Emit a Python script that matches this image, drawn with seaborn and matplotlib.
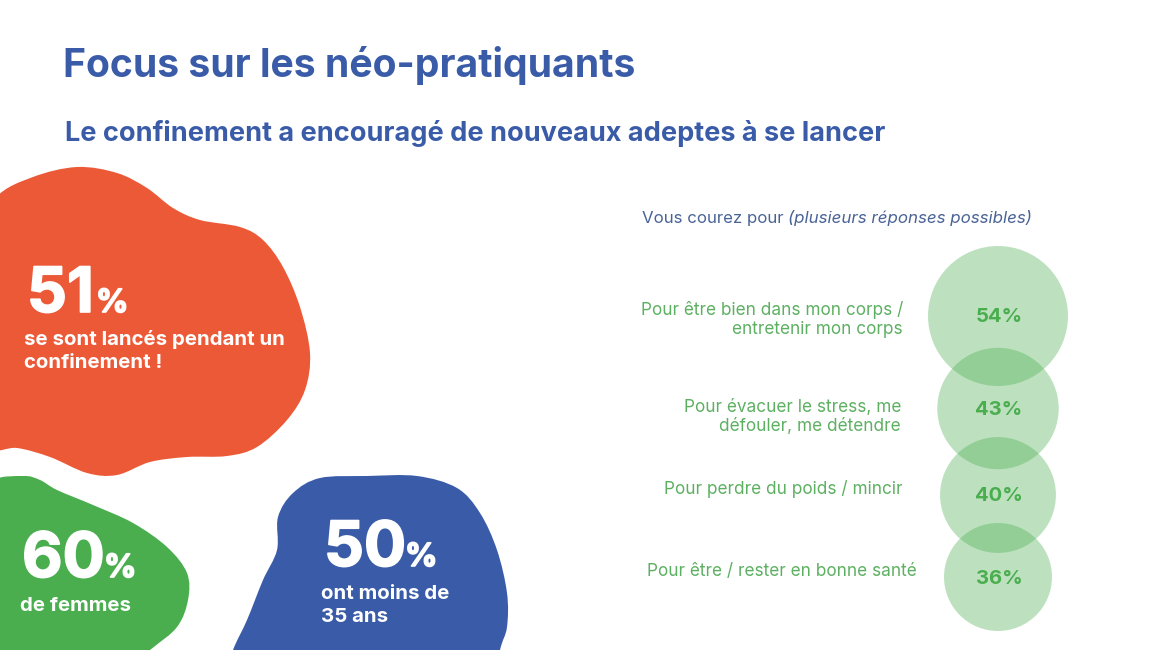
import numpy as np
import pandas as pd
import matplotlib
matplotlib.use('Agg')
import matplotlib.pyplot as plt
import matplotlib.patheffects as pe
from matplotlib.patches import PathPatch
from matplotlib.path import Path
import seaborn as sns

RED = '#EC5937'
GREEN = '#4AAE4F'
BLUE = '#3A5CA8'
LABEL_GREEN = '#5DB062'

# left side key figures
stat_values = [51, 60, 50]
stat_captions = ["se sont lancés pendant un\nconfinement !", "de femmes", "ont moins de\n35 ans"]

# right side survey answers
reasons = ["Pour être bien dans mon corps /\nentretenir mon corps",
           "Pour évacuer le stress, me\ndéfouler, me détendre",
           "Pour perdre du poids / mincir",
           "Pour être / rester en bonne santé"]
reason_values = [54, 43, 40, 36]

# layout, in pixels of the slide
bubble_x = [998, 998, 998, 998]
bubble_y = [316, 408.5, 495, 577]
pct_y = [317, 410, 496, 579]
label_x = [903, 901, 903, 917]
label_y = [315, 412, 494, 576]

# hand traced blob outlines
red_blob = [(-40, 250), (-5, 198), (33, 177), (77, 167), (117, 173), (147, 188), (173, 208), (200, 220),
            (240, 227), (263, 240), (283, 267), (300, 307), (310, 353), (305, 390), (287, 420),
            (257, 447), (227, 456), (187, 457), (150, 462), (117, 475), (87, 473), (50, 457),
            (17, 448), (-10, 449), (-40, 420)]
green_blob = [(-40, 520), (-10, 482), (23, 476), (40, 480), (57, 490), (93, 505), (133, 523), (167, 547),
              (187, 573), (188, 600), (177, 627), (150, 650), (100, 690), (-40, 690)]
blue_blob = [(220, 690), (233, 650), (247, 620), (263, 580), (277, 550), (278, 517), (293, 493), (320, 478),
             (367, 476), (417, 476), (457, 488), (480, 513), (497, 550), (507, 593), (507, 627),
             (500, 650), (490, 700)]


def smooth_closed(points):
    # closed Catmull-Rom outline turned into bezier segments
    pts = np.array(points, dtype=float)
    n = len(pts)
    verts = [pts[0]]
    codes = [Path.MOVETO]
    for i in range(n):
        p0, p1, p2, p3 = pts[i - 1], pts[i], pts[(i + 1) % n], pts[(i + 2) % n]
        verts += [p1 + (p2 - p0) / 6, p2 - (p3 - p1) / 6, p2]
        codes += [Path.CURVE4] * 3
    return Path(verts, codes)


def draw_lines(ax, x, y, text, step, **kw):
    # one Text per line so that every baseline lands where it should
    for i, line in enumerate(text.split("\n")):
        ax.text(x, y + i * step, line, va='baseline', zorder=3, **kw)


def draw_stat(ax, value, caption, x, y, pct_x, cap_x, cap_y, outline, color):
    ax.add_patch(PathPatch(smooth_closed(outline), fc=color, ec='none', zorder=1))
    # the reference digits are heavier than Inter Bold
    heavy = [pe.withStroke(linewidth=1.2, foreground='white')]
    ax.text(x, y, str(value), color='white', fontsize=45, fontweight='bold', va='baseline', zorder=3,
            path_effects=heavy)
    ax.text(pct_x, y, "%", color='white', fontsize=23, fontweight='bold', va='baseline', zorder=3,
            path_effects=heavy)
    draw_lines(ax, cap_x, cap_y, caption, 23, color='white', fontsize=14.7, fontweight='bold')


def main():
    sns.set_theme(style='white')
    plt.rcParams['font.family'] = ['Inter', 'DejaVu Sans']

    fig, ax = plt.subplots(figsize=(11.6, 6.5), dpi=100)
    ax.set_position([0, 0, 1, 1])
    ax.set_xlim(0, 1160)
    ax.set_ylim(650, 0)
    ax.axis('off')

    ax.text(63, 77, "Focus sur les néo-pratiquants", color=BLUE, fontsize=28.2, fontweight='bold')
    ax.text(65, 141, "Le confinement a encouragé de nouveaux adeptes à se lancer", color=BLUE,
            fontsize=19.5, fontweight='bold')

    draw_stat(ax, stat_values[0], stat_captions[0], 27, 312, 96, 24, 345, red_blob, RED)
    draw_stat(ax, stat_values[1], stat_captions[1], 22, 577, 104, 20, 611, green_blob, GREEN)
    draw_stat(ax, stat_values[2], stat_captions[2], 324, 566, 405, 321, 599, blue_blob, BLUE)

    ax.text(642, 223, "Vous courez pour ", color='#4A6396', fontsize=12.1)
    ax.text(788, 223, "(plusieurs réponses possibles)", color='#4A6396', fontsize=12.2, style='italic')

    df = pd.DataFrame({'reason': reasons, 'value': reason_values, 'x': bubble_x, 'y': bubble_y})
    sns.scatterplot(data=df, x='x', y='y', size='value', sizes=(108 ** 2 * 0.5184, 140 ** 2 * 0.5184),
                    color=GREEN, alpha=0.36, linewidth=0, legend=False, ax=ax, zorder=2)
    ax.set_xlabel('')
    ax.set_ylabel('')

    for reason, value, lx, ly, py in zip(reasons, reason_values, label_x, label_y, pct_y):
        draw_lines(ax, lx, ly, reason, 19.5, color=LABEL_GREEN, fontsize=12.4, ha='right')
        ax.text(999, py, f"{value}%", color=GREEN, fontsize=14.6, fontweight='bold', ha='center',
                va='center', zorder=3)

    fig.savefig('out.png', dpi=100, facecolor='white')
    plt.close(fig)


if __name__ == "__main__":
    main()
